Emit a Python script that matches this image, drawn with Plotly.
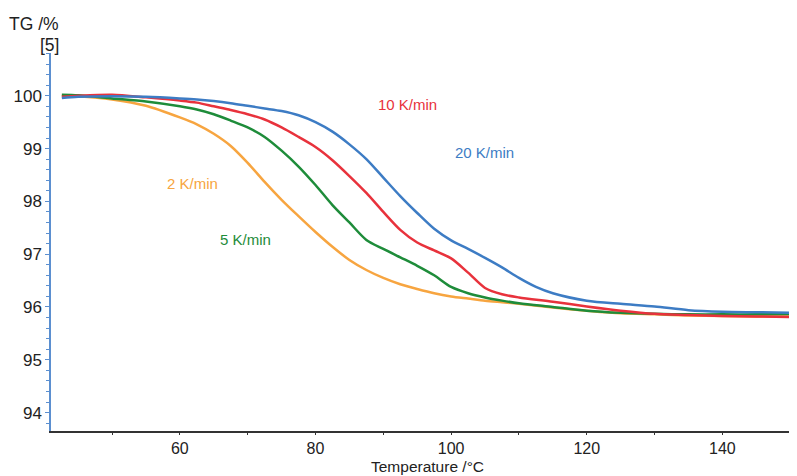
import plotly.graph_objects as go

# ---- data ----
temps = [42.6, 45, 50, 55, 60, 62.5, 65, 67.5, 70, 72.5, 75, 77.5, 80, 82.5, 85, 87.5, 90,
         92.5, 95, 97.5, 100, 102.5, 105, 107.5, 110, 115, 120, 125, 130, 135, 140, 145, 150.5]

tg_2k = [100.0, 99.99, 99.93, 99.81, 99.59, 99.46, 99.28, 99.05, 98.73, 98.37, 98.03, 97.72, 97.42,
         97.14, 96.89, 96.70, 96.55, 96.43, 96.34, 96.26, 96.20, 96.16, 96.12, 96.09, 96.06, 95.99,
         95.93, 95.88, 95.86, 95.84, 95.83, 95.82, 95.82]

tg_5k = [100.02, 100.01, 99.95, 99.89, 99.80, 99.74, 99.65, 99.53, 99.40, 99.22, 98.96, 98.66, 98.31,
         97.93, 97.60, 97.27, 97.10, 96.94, 96.78, 96.60, 96.38, 96.26, 96.18, 96.12, 96.07, 96.0,
         95.93, 95.89, 95.87, 95.86, 95.86, 95.86, 95.87]

tg_10k = [99.98, 100.0, 100.02, 99.97, 99.91, 99.87, 99.80, 99.73, 99.65, 99.55, 99.40, 99.22, 99.03,
          98.78, 98.48, 98.16, 97.80, 97.46, 97.22, 97.07, 96.92, 96.65, 96.36, 96.24, 96.18, 96.10,
          96.01, 95.93, 95.87, 95.85, 95.83, 95.82, 95.81]

temps_20k = [42.6, 45, 50, 55, 60, 62.5, 65, 67.5, 70, 72.5, 75, 77.5, 80, 82.5, 85, 87.5, 90,
             92.5, 95, 97.5, 100, 102.5, 105, 107.5, 110, 112.5, 115, 120, 125, 130, 135, 140, 145, 150.5]
tg_20k = [99.96, 99.98, 99.99, 99.98, 99.95, 99.93, 99.90, 99.86, 99.81, 99.76, 99.71, 99.63, 99.50,
          99.32, 99.08, 98.80, 98.45, 98.10, 97.78, 97.48, 97.26, 97.10, 96.93, 96.75, 96.55, 96.38,
          96.26, 96.12, 96.06, 96.01, 95.94, 95.91, 95.90, 95.89]

series = [
    ("2 K/min", temps, tg_2k, "#f7a540", 61.8, 98.33),
    ("5 K/min", temps, tg_5k, "#1e8c3a", 69.7, 97.27),
    ("10 K/min", temps, tg_10k, "#e8323c", 93.5, 99.83),
    ("20 K/min", temps_20k, tg_20k, "#3d7cc4", 104.9, 98.92),
]

x_ticks = [60, 80, 100, 120, 140]
y_ticks = [94, 95, 96, 97, 98, 99, 100]

FONT = "Liberation Sans, Arial, sans-serif"

fig = go.Figure()
for name, t, tg, col, lx, ly in series:
    fig.add_trace(go.Scatter(x=t, y=tg, mode="lines", name=name,
                             line=dict(color=col, width=2.5, shape="spline", smoothing=0.8)))
    fig.add_annotation(x=lx, y=ly, text=name, showarrow=False,
                       font=dict(family=FONT, size=15, color=col))

fig.update_layout(
    width=789, height=468,
    margin=dict(l=43, r=0, t=45, b=45),
    paper_bgcolor="white", plot_bgcolor="white",
    showlegend=False,
    font=dict(family=FONT, size=17, color="#222"),
)
fig.update_xaxes(
    range=[41, 151], tickvals=x_ticks, showgrid=False, zeroline=False,
    showline=True, linecolor="#333", linewidth=1.5,
    ticks="outside", ticklen=2, tickcolor="#333",
    minor=dict(dtick=10, tick0=40, ticks="outside", ticklen=2, tickcolor="#333"),
    tickfont=dict(family=FONT, size=16, color="#222"),
)
fig.update_yaxes(
    range=[93.651, 100.81], tickvals=y_ticks, showgrid=False, zeroline=False,
    showline=True, linecolor="#5b8fd0", linewidth=1.5,
    ticks="outside", ticklen=4, tickcolor="#5b8fd0",
    minor=dict(dtick=0.2, tick0=94, ticks="outside", ticklen=3, tickcolor="#5b8fd0"),
    tickfont=dict(family=FONT, size=17, color="#222"),
)

fig.add_annotation(xref="paper", yref="paper", x=0.0134, y=1.0767, text="TG /%",
                   showarrow=False, xanchor="right", yanchor="middle",
                   font=dict(family=FONT, size=17.5, color="#222"))
fig.add_annotation(xref="paper", yref="paper", x=0.0134, y=1.0212, text="[5]",
                   showarrow=False, xanchor="right", yanchor="middle",
                   font=dict(family=FONT, size=17.5, color="#222"))
fig.add_annotation(xref="paper", yref="paper", x=0.505, y=-0.0939, text="Temperature /°C",
                   showarrow=False, xanchor="center", yanchor="middle",
                   font=dict(family=FONT, size=15.5, color="#222"))

fig.write_html("out.html")
